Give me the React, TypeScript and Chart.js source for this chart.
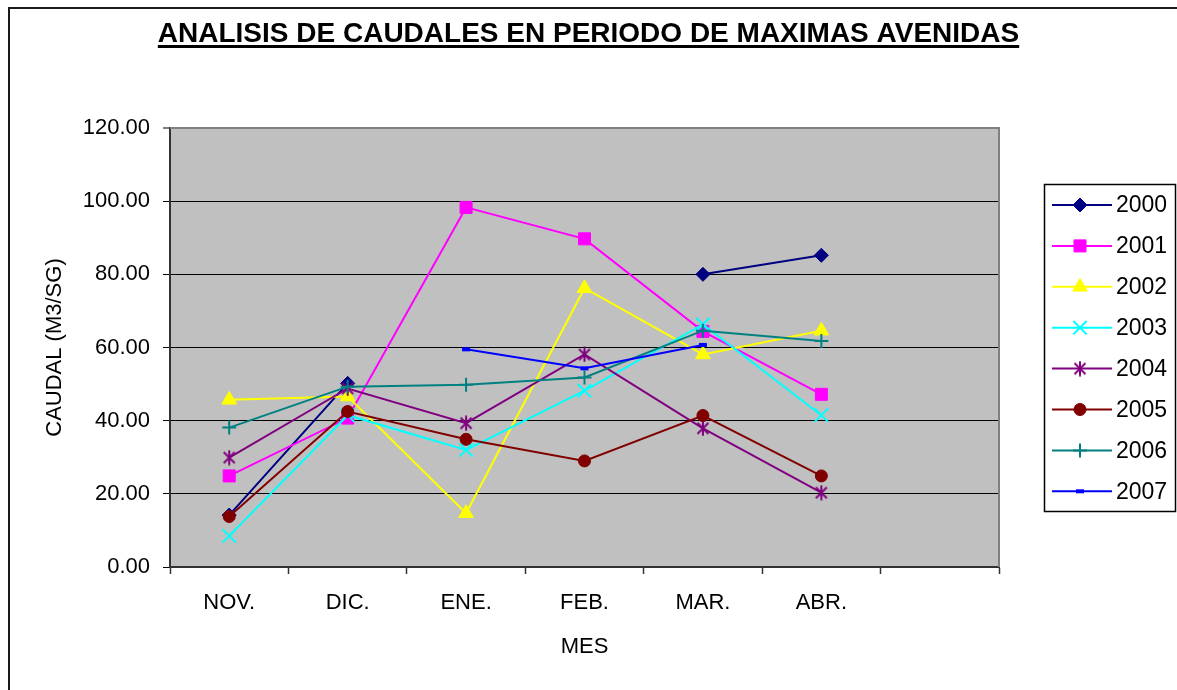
import React, { useEffect, useRef } from "react";
import { Chart, registerables } from "chart.js";
import { drawPoint } from "chart.js/helpers";

Chart.register(...registerables);

const categories = ["NOV.", "DIC.", "ENE.", "FEB.", "MAR.", "ABR.", ""];
const years = ["2000", "2001", "2002", "2003", "2004", "2005", "2006", "2007"];

const s2000 = [14.2, 50.2, null, null, 80.0, 85.2, null];
const s2001 = [24.9, 40.7, 98.3, 89.7, 64.4, 47.2, null];
const s2002 = [45.7, 46.6, 14.7, 76.2, 58.1, 64.6, null];
const s2003 = [8.5, 41.5, 32.0, 48.2, 66.3, 41.5, null];
const s2004 = [29.9, 48.8, 39.3, 58.1, 37.9, 20.3, null];
const s2005 = [13.8, 42.5, 34.9, 29.0, 41.4, 24.9, null];
const s2006 = [38.1, 49.3, 49.8, 51.8, 64.6, 61.8, null];
const s2007 = [null, null, 59.5, 54.3, 60.7, null, null];

const yTicks = [0, 20, 40, 60, 80, 100, 120];

const seriesValues = [s2000, s2001, s2002, s2003, s2004, s2005, s2006, s2007];
const seriesColors = ["#000080", "#FF00FF", "#FFFF00", "#00FFFF", "#800080", "#800000", "#008080", "#0000FF"];

const FONT = "'Liberation Sans', Arial, Helvetica, sans-serif";

function makeStar(color: string): HTMLCanvasElement {
  const c = document.createElement("canvas");
  c.width = 16;
  c.height = 16;
  const g = c.getContext("2d")!;
  g.strokeStyle = color;
  g.lineWidth = 2;
  g.beginPath();
  g.moveTo(2.5, 2.5);
  g.lineTo(13.5, 13.5);
  g.moveTo(13.5, 2.5);
  g.lineTo(2.5, 13.5);
  g.moveTo(8, 0.5);
  g.lineTo(8, 15.5);
  g.stroke();
  return c;
}

export default function App() {
  const ref = useRef<HTMLCanvasElement | null>(null);

  useEffect(() => {
    const canvas = ref.current;
    if (!canvas) return;
    const star = makeStar("#800080");

    const markerStyles: any[] = ["rectRot", "rect", "triangle", "crossRot", star, "circle", "cross", "line"];
    const markerRadius = [7, 8.5, 8.5, 9.5, 8, 6, 7, 4];
    const markerBorder = [1, 1, 1, 2, 2, 1, 2, 4];

    const datasets = years.map((y, i) => ({
      label: y,
      data: seriesValues[i],
      borderColor: seriesColors[i],
      backgroundColor: seriesColors[i],
      pointBackgroundColor: seriesColors[i],
      pointBorderColor: seriesColors[i],
      pointStyle: markerStyles[i],
      pointRadius: markerRadius[i],
      pointHoverRadius: markerRadius[i],
      pointBorderWidth: markerBorder[i],
      borderWidth: 2,
      tension: 0,
      spanGaps: false,
      fill: false,
      order: years.length - i,
    }));

    const framePlugin = {
      id: "framePlugin",
      beforeDraw(chart: any) {
        const { ctx, chartArea } = chart;
        ctx.save();
        ctx.fillStyle = "#FFFFFF";
        ctx.fillRect(0, 0, chart.width, chart.height);
        ctx.fillStyle = "#C0C0C0";
        ctx.fillRect(chartArea.left, chartArea.top, chartArea.right - chartArea.left, chartArea.bottom - chartArea.top);
        ctx.restore();
      },
      beforeDatasetsDraw(chart: any) {
        const { ctx, chartArea } = chart;
        ctx.save();
        ctx.strokeStyle = "#808080";
        ctx.lineWidth = 2;
        ctx.beginPath();
        ctx.moveTo(chartArea.left, chartArea.top);
        ctx.lineTo(chartArea.right, chartArea.top);
        ctx.lineTo(chartArea.right, chartArea.bottom);
        ctx.stroke();
        ctx.restore();
      },
      afterDraw(chart: any) {
        const { ctx } = chart;
        ctx.save();
        // outer frame
        ctx.strokeStyle = "#1a1a1a";
        ctx.lineWidth = 2;
        ctx.beginPath();
        ctx.moveTo(9, 700);
        ctx.lineTo(9, 8);
        ctx.lineTo(1190, 8);
        ctx.stroke();

        // title
        const title = "ANALISIS DE CAUDALES EN PERIODO DE MAXIMAS AVENIDAS";
        ctx.font = `bold 28px ${FONT}`;
        ctx.fillStyle = "#000";
        ctx.textAlign = "center";
        ctx.textBaseline = "alphabetic";
        const cx = chart.width / 2;
        ctx.fillText(title, cx, 42);
        const w = ctx.measureText(title).width;
        ctx.fillRect(cx - w / 2, 45, w, 3);

        // legend
        const lx = 1044.5, ly = 184.5, lw = 131, lh = 327;
        ctx.fillStyle = "#FFFFFF";
        ctx.fillRect(lx, ly, lw, lh);
        ctx.strokeStyle = "#000";
        ctx.lineWidth = 1.5;
        ctx.strokeRect(lx, ly, lw, lh);
        ctx.font = `23px ${FONT}`;
        ctx.textAlign = "left";
        ctx.textBaseline = "middle";
        chart.data.datasets.forEach((ds: any, i: number) => {
          const yy = 205 + i * 40.9;
          ctx.strokeStyle = ds.borderColor;
          ctx.lineWidth = 2;
          ctx.beginPath();
          ctx.moveTo(1052, yy);
          ctx.lineTo(1112, yy);
          ctx.stroke();
          ctx.fillStyle = ds.pointBackgroundColor;
          ctx.strokeStyle = ds.pointBorderColor;
          ctx.lineWidth = ds.pointBorderWidth;
          drawPoint(ctx, { pointStyle: ds.pointStyle, radius: ds.pointRadius, borderWidth: ds.pointBorderWidth, rotation: 0 } as any, 1080, yy);
          ctx.fillStyle = "#000";
          ctx.fillText(ds.label, 1116, yy + 1);
        });
        ctx.restore();
      },
    };

    const chart = new Chart(canvas, {
      type: "line",
      data: { labels: categories, datasets: datasets as any },
      options: {
        responsive: false,
        animation: false,
        devicePixelRatio: 1,
        layout: { padding: { top: 128, right: 178, left: 0, bottom: 0 } },
        plugins: {
          legend: { display: false },
          title: { display: false },
          tooltip: { enabled: false },
        },
        scales: {
          x: {
            type: "category",
            offset: true,
            afterFit: (s: any) => {
              s.height = 123;
            },
            grid: {
              offset: true,
              drawOnChartArea: false,
              drawTicks: true,
              tickLength: 7,
              color: "#333",
              tickColor: "#333",
              tickWidth: 1.5,
            },
            border: { display: true, color: "#333", width: 2 },
            ticks: {
              color: "#000",
              font: { family: FONT, size: 22 },
              padding: 16,
              maxRotation: 0,
              autoSkip: false,
            },
            title: {
              display: true,
              text: "MES",
              color: "#000",
              font: { family: FONT, size: 22 },
              padding: { top: 0, bottom: 30 },
            },
          },
          y: {
            min: 0,
            max: 120,
            afterFit: (s: any) => {
              s.width = 170;
            },
            afterBuildTicks: (s: any) => {
              s.ticks = yTicks.map((v) => ({ value: v }));
            },
            grid: {
              color: (c: any) => (c.tick && c.tick.value === 120 ? "#808080" : "#000"),
              lineWidth: (c: any) => (c.tick && c.tick.value === 120 ? 2 : 1),
              tickColor: "#000",
              tickWidth: 1,
              tickLength: 7,
              drawTicks: true,
            },
            border: { display: true, color: "#333", width: 2 },
            ticks: {
              color: "#000",
              font: { family: FONT, size: 22 },
              padding: 13,
              callback: (v: any) => Number(v).toFixed(2),
            },
            title: {
              display: true,
              text: "CAUDAL (M3/SG)",
              color: "#000",
              font: { family: FONT, size: 22 },
              padding: { top: 42, bottom: 0 },
            },
          },
        },
      },
      plugins: [framePlugin],
    });

    return () => {
      chart.destroy();
    };
  }, []);

  return (
    <div style={{ position: "fixed", left: 0, top: 0, width: 1177, height: 690, background: "#fff" }}>
      <canvas ref={ref} width={1177} height={690} style={{ display: "block" }} />
    </div>
  );
}
